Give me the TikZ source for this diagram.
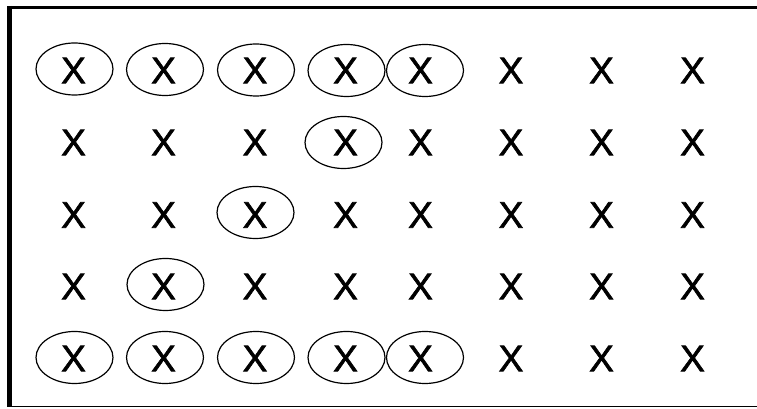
\documentclass[tikz,border=0pt]{standalone}
\usepackage{fontspec}
\setmainfont{Liberation Sans}
\newfontfamily\xfont[FakeBold=1.6]{Liberation Sans}
\usetikzlibrary{shapes.geometric}
\begin{document}
\begin{tikzpicture}[x=1pt,y=1pt,
  cell/.style={inner sep=0pt,font=\xfont\fontsize{37}{42}\selectfont},
  ring/.style={draw,line width=1.2pt,ellipse,minimum width=77pt,minimum height=52pt,inner sep=0pt}]
\useasboundingbox (0,0) rectangle (757,409);
\fill[white] (0,0) rectangle (757,409);
% frame
\coordinate (tl) at (7.5,401.5);
\coordinate (tr) at (757,401.5);
\coordinate (bl) at (7.5,2.5);
\coordinate (br) at (757,2.5);
\coordinate (lt) at (9.5,403);
\coordinate (lb) at (9.5,1.6);
\draw[line width=3pt] (tl) -- (tr);
\draw[line width=1.8pt] (bl) -- (br);
\draw[line width=4.5pt] (lt) -- (lb);
% grid of X
\foreach \r/\y in {1/338.5,2/266.5,3/194,4/122.5,5/50.5} {
  \foreach \c/\x in {1/73.5,2/163.5,3/255,4/345.5,5/420.5,6/511,7/601.5,8/692.5} {
    \node[cell] (x\r\c) at (\x,\y) {X};
  }
}
% rings
\node[ring] (e11) at (74.5,340) {};
\node[ring] (e12) at (165,339.5) {};
\node[ring] (e13) at (256,339) {};
\node[ring] (e14) at (346.5,338.5) {};
\node[ring] (e15) at (425,338.5) {};
\node[ring] (e24) at (343.5,266.5) {};
\node[ring] (e33) at (255.5,196.5) {};
\node[ring] (e42) at (165.5,124.5) {};
\node[ring] (e51) at (74.5,51.5) {};
\node[ring] (e52) at (165,51.5) {};
\node[ring] (e53) at (256,51.5) {};
\node[ring] (e54) at (346.5,51.5) {};
\node[ring] (e55) at (425,51.5) {};
\end{tikzpicture}
\end{document}
